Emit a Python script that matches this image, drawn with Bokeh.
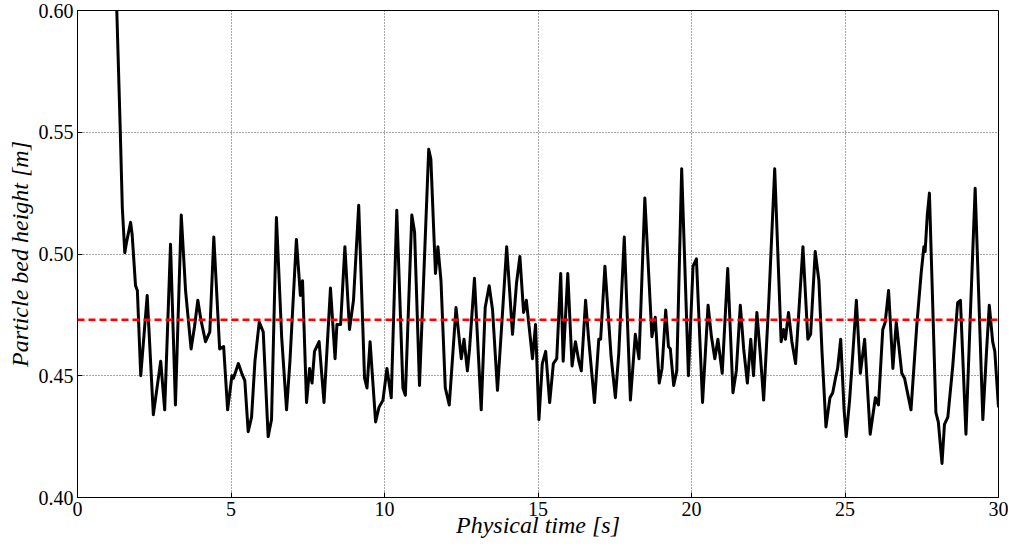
import numpy as np
from bokeh.plotting import figure
from bokeh.models import Span, FixedTicker, PrintfTickFormatter, Range1d
from bokeh.embed import file_html
from bokeh.resources import INLINE

# ---- data ----
time_s = [
    1.20, 1.28, 1.39, 1.46, 1.54, 1.60, 1.73, 1.78, 1.89, 1.95, 2.06, 2.27, 2.47, 2.71, 2.84,
    3.03, 3.19, 3.38, 3.52, 3.70, 3.81, 3.92, 4.02, 4.17, 4.31, 4.44, 4.63, 4.76, 4.89, 5.03,
    5.08, 5.24, 5.35, 5.45, 5.56, 5.67, 5.78, 5.92, 6.05, 6.21, 6.32, 6.48, 6.65, 6.81, 6.92,
    7.13, 7.26, 7.33, 7.46, 7.56, 7.64, 7.72, 7.87, 8.03, 8.24, 8.39, 8.45, 8.57, 8.71, 8.86,
    8.99, 9.16, 9.35, 9.43, 9.53, 9.71, 9.82, 9.95, 10.08,
    10.22, 10.40, 10.60, 10.68, 10.89, 10.98, 11.14, 11.44, 11.51, 11.66, 11.74, 11.84, 11.98,
    12.11, 12.33, 12.50, 12.59, 12.70, 12.77, 12.93, 13.15, 13.28, 13.41, 13.52, 13.68, 13.86,
    13.98, 14.17, 14.30, 14.41, 14.53, 14.62, 14.82, 14.92, 15.03,
    15.14, 15.25, 15.38, 15.50, 15.61, 15.74, 15.82, 15.97, 16.11, 16.22, 16.33, 16.41, 16.55,
    16.65, 16.84, 16.98, 17.04, 17.18, 17.38, 17.52, 17.63, 17.81, 18.01, 18.17, 18.29, 18.48,
    18.71, 18.82, 18.95, 19.04, 19.16, 19.25, 19.31, 19.42, 19.52, 19.68, 19.90,
    20.05, 20.16, 20.36, 20.54, 20.65, 20.76, 20.86, 21.00, 21.18, 21.35, 21.46, 21.59, 21.70,
    21.82, 21.93, 22.02, 22.13, 22.24, 22.35, 22.52, 22.71, 22.92, 23.00, 23.06, 23.16, 23.27,
    23.39, 23.63, 23.79, 23.88, 24.03, 24.15, 24.25, 24.38, 24.51, 24.60, 24.69, 24.76, 24.86,
    24.97, 25.04,
    25.15, 25.26, 25.37, 25.50, 25.64, 25.82, 25.91, 25.99, 26.09, 26.23, 26.31, 26.42, 26.56,
    26.67, 26.85, 26.94, 27.02, 27.15, 27.34, 27.48, 27.57, 27.61, 27.68, 27.75, 27.96, 28.04,
    28.16, 28.24, 28.35, 28.51, 28.67, 28.76, 28.94, 29.08, 29.24, 29.49, 29.61, 29.70, 29.81,
    29.88, 30.00,
]
bed_height_m = [
    0.630, 0.600, 0.552, 0.519, 0.5005, 0.505, 0.513, 0.508, 0.487, 0.485, 0.450, 0.483, 0.434, 0.456, 0.436,
    0.504, 0.438, 0.516, 0.485, 0.461, 0.470, 0.481, 0.473, 0.464, 0.468, 0.507, 0.461, 0.462, 0.436, 0.450,
    0.449, 0.455, 0.451, 0.448, 0.427, 0.433, 0.456, 0.472, 0.468, 0.425, 0.432, 0.515, 0.466, 0.436, 0.456,
    0.506, 0.483, 0.489, 0.439, 0.453, 0.447, 0.460, 0.464, 0.439, 0.486, 0.457, 0.471, 0.471, 0.503, 0.469,
    0.481, 0.520, 0.449, 0.445, 0.464, 0.431, 0.437, 0.440, 0.453,
    0.441, 0.518, 0.445, 0.442, 0.516, 0.509, 0.446, 0.543, 0.539, 0.492, 0.503, 0.489, 0.445,
    0.438, 0.478, 0.457, 0.465, 0.452, 0.461, 0.490, 0.436, 0.478, 0.487, 0.477, 0.444, 0.479,
    0.503, 0.467, 0.488, 0.499, 0.476, 0.481, 0.457, 0.471, 0.432,
    0.455, 0.460, 0.439, 0.455, 0.457, 0.492, 0.456, 0.492, 0.454, 0.464, 0.456, 0.452, 0.481,
    0.465, 0.439, 0.465, 0.465, 0.495, 0.458, 0.441, 0.459, 0.507, 0.440, 0.467, 0.457, 0.523,
    0.466, 0.474, 0.447, 0.453, 0.477, 0.462, 0.461, 0.446, 0.452, 0.535, 0.450,
    0.495, 0.498, 0.439, 0.479, 0.466, 0.457, 0.465, 0.451, 0.494, 0.443, 0.452, 0.479, 0.461,
    0.447, 0.465, 0.450, 0.476, 0.459, 0.440, 0.481, 0.535, 0.464, 0.469, 0.465, 0.476, 0.464,
    0.455, 0.503, 0.465, 0.467, 0.501, 0.489, 0.460, 0.429, 0.441, 0.443, 0.449, 0.453, 0.465,
    0.436, 0.425,
    0.440, 0.460, 0.481, 0.451, 0.465, 0.426, 0.434, 0.441, 0.438, 0.469, 0.472, 0.485, 0.453,
    0.472, 0.451, 0.449, 0.444, 0.436, 0.471, 0.492, 0.503, 0.501, 0.516, 0.525, 0.435, 0.431,
    0.414, 0.430, 0.433, 0.454, 0.480, 0.481, 0.426, 0.474, 0.527, 0.432, 0.460, 0.479, 0.464,
    0.460, 0.437,
]
mean_height_m = 0.473

x_ticks = [0, 5, 10, 15, 20, 25, 30]
y_ticks = [0.40, 0.45, 0.50, 0.55, 0.60]
x_label = "Physical time [s]"
y_label = "Particle bed height [m]"

SERIF = "Liberation Serif"

p = figure(width=1008, height=548, output_backend="svg", toolbar_location=None,
           title=None,
           x_range=Range1d(0, 30), y_range=Range1d(0.40, 0.60),
           min_border_left=77, min_border_right=10, min_border_top=10, min_border_bottom=51)

p.background_fill_color = "white"
p.border_fill_color = "white"
p.outline_line_color = "black"
p.outline_line_width = 1

for ax in (p.xaxis[0], p.yaxis[0]):
    ax.axis_line_color = "black"
    ax.major_tick_in = 5
    ax.major_tick_out = 0
    ax.minor_tick_in = 0
    ax.minor_tick_out = 0
    ax.major_tick_line_color = "black"
    ax.major_label_text_font = SERIF
    ax.major_label_text_font_size = "20px"
    ax.major_label_text_color = "black"
    ax.major_label_standoff = 4
    ax.axis_label_text_font = SERIF
    ax.axis_label_text_font_style = "italic"
    ax.axis_label_text_font_size = "24px"
    ax.axis_label_text_color = "black"

p.xaxis[0].axis_label = x_label
p.yaxis[0].axis_label = y_label
p.xaxis[0].axis_label_standoff = -7
p.yaxis[0].axis_label_standoff = 3

p.xaxis[0].ticker = FixedTicker(ticks=x_ticks)
p.yaxis[0].ticker = FixedTicker(ticks=y_ticks)
p.yaxis[0].formatter = PrintfTickFormatter(format="%.2f")

for g in (p.xgrid[0], p.ygrid[0]):
    g.grid_line_color = "black"
    g.grid_line_alpha = 0.7
    g.grid_line_dash = "1 2"
    g.grid_line_width = 1
p.xgrid[0].ticker = FixedTicker(ticks=x_ticks)
p.ygrid[0].ticker = FixedTicker(ticks=y_ticks)

p.line(time_s, bed_height_m, line_color="black", line_width=3, line_join="round")

p.add_layout(Span(location=mean_height_m, dimension="width", line_color="#ff0000",
                  line_width=2.5, line_dash="7 4"))

open("out.html", "w").write(file_html(p, INLINE))
